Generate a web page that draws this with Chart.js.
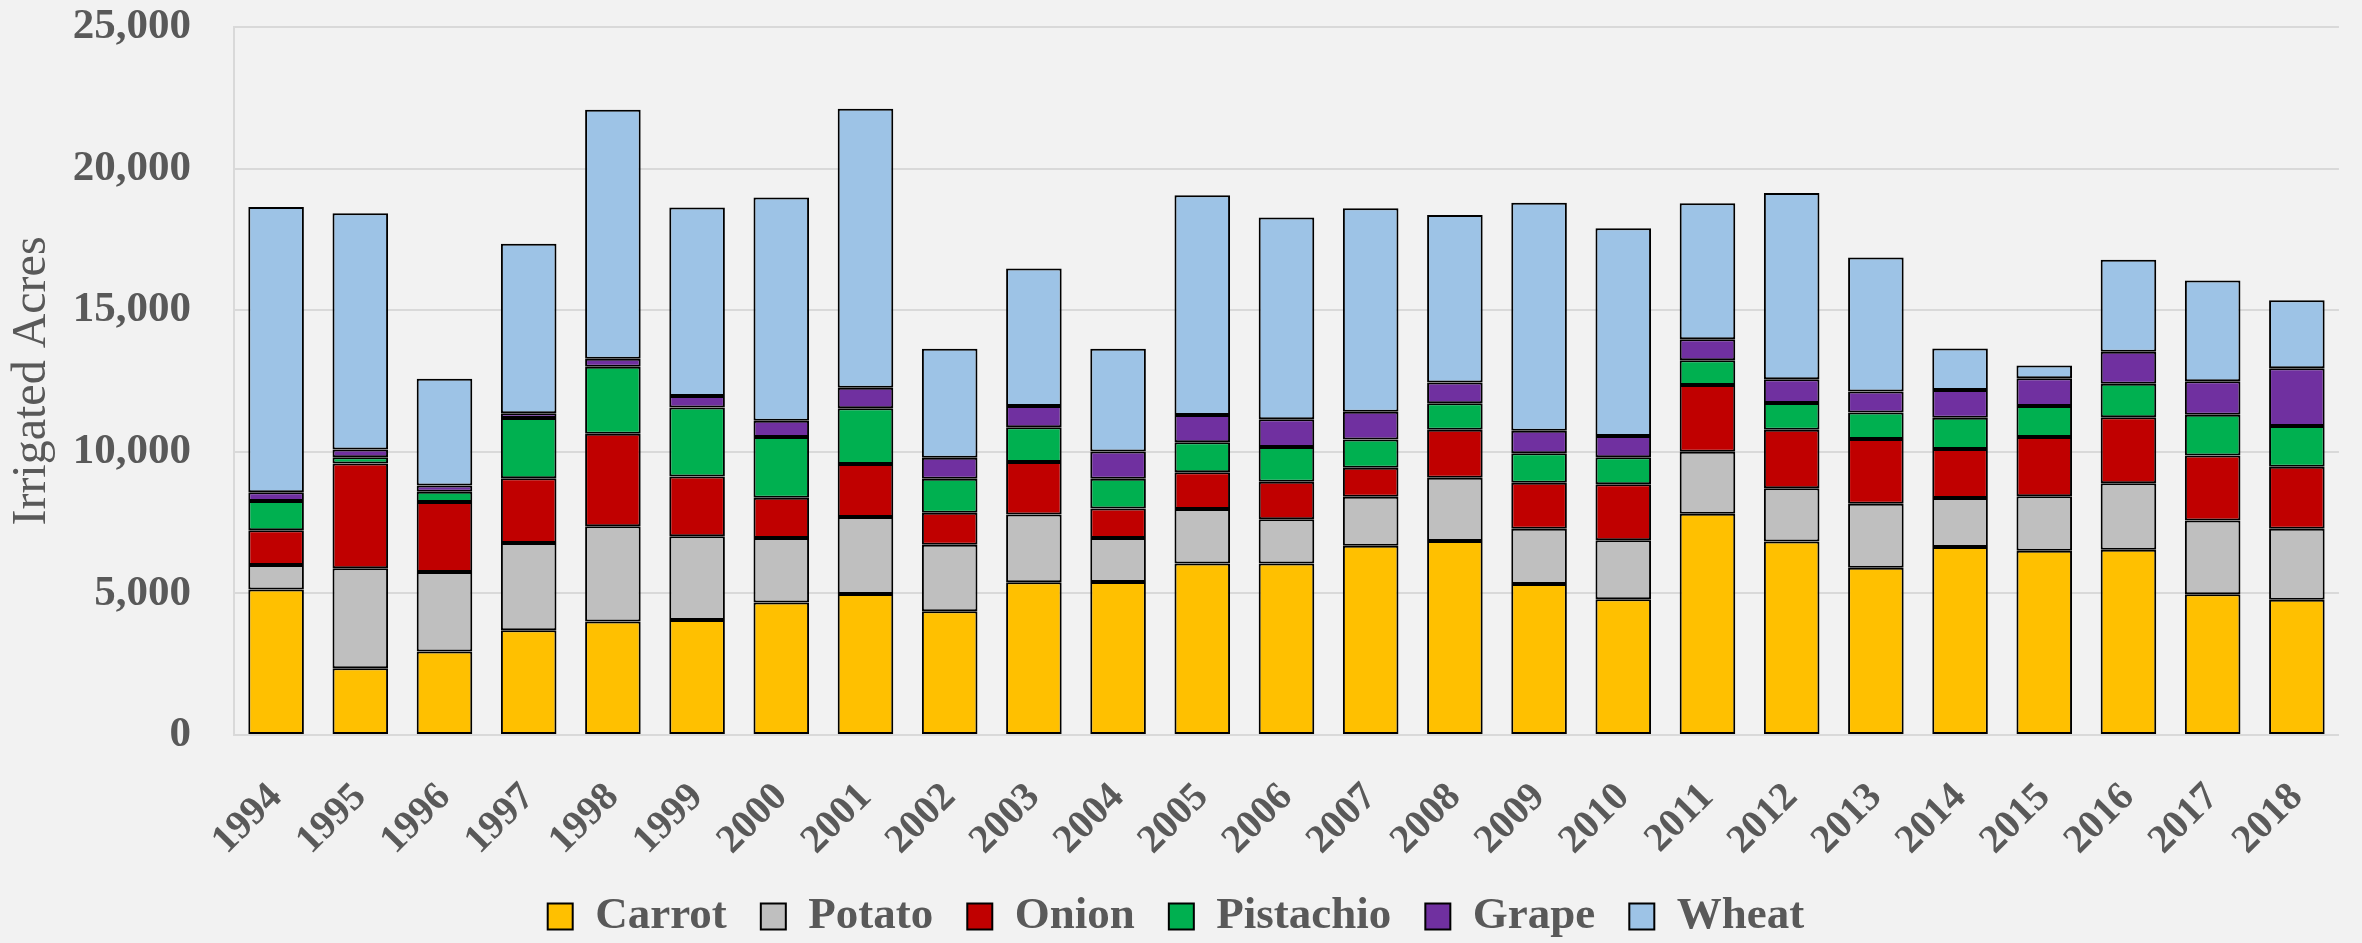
<!DOCTYPE html>
<html>
<head>
<meta charset="utf-8">
<title>Irrigated Acres by Crop, 1994–2018</title>
<script src="https://cdn.jsdelivr.net/npm/chart.js@4.4.1/dist/chart.umd.min.js"></script>
<style>
  html, body { margin: 0; padding: 0; background: #f2f2f2; }
  #wrap { width: 2362px; height: 943px; }
</style>
</head>
<body>
<div id="wrap"><canvas id="chart" width="2362" height="943"></canvas></div>
<script>
// Years on the category axis
const years = ['1994','1995','1996','1997','1998','1999','2000','2001','2002','2003','2004','2005',
               '2006','2007','2008','2009','2010','2011','2012','2013','2014','2015','2016','2017','2018'];

// Irrigated acres per crop and year
const carrot    = [5140,2360,2950,3700,4010,4060,4680,4980,4370,5390,5400,6060,6060,6680,6850,5330,4790,7810,6830,5910,6640,6510,6540,4970,4780];
const potato    = [860,3530,2810,3080,3360,2960,2280,2720,2350,2400,1560,1920,1560,1730,2230,1950,2090,2190,1880,2260,1730,1920,2350,2600,2500];
const onion     = [1230,3700,2470,2290,3270,2110,1420,1870,1130,1850,1040,1300,1320,1030,1700,1630,1970,2360,2070,2280,1730,2090,2330,2300,2190];
const pistachio = [1030,220,360,2120,2360,2430,2140,1970,1200,1230,1050,1060,1230,990,930,1040,960,870,940,940,1100,1100,1180,1440,1440];
const grape     = [310,270,220,170,290,410,580,720,740,750,960,960,980,980,740,790,750,740,840,740,980,980,1130,1180,2040];
const wheat     = [10070,8340,3770,5990,8790,6660,7880,9850,3850,4850,3630,7760,7120,7190,5910,8050,7330,4810,6580,4730,1470,450,3250,3560,2400];

// Value axis ticks
const yTicks = [0, 5000, 10000, 15000, 20000, 25000];

const seriesNames  = ['Carrot','Potato','Onion','Pistachio','Grape','Wheat'];
const seriesData   = [carrot, potato, onion, pistachio, grape, wheat];
const seriesColors = ['#FFC000','#BFBFBF','#C00000','#00B050','#7030A0','#9DC3E6'];

const FONT = '"Liberation Serif", "Times New Roman", serif';
const TEXT = '#595959';
const GRID = '#d9d9d9';

const datasets = seriesNames.map((name, i) => ({
  label: name,
  data: seriesData[i],
  backgroundColor: seriesColors[i],
  borderColor: '#000000',
  borderWidth: 2,
  borderSkipped: false,
  categoryPercentage: 1.0,
  barPercentage: 0.66
}));

new Chart(document.getElementById('chart'), {
  type: 'bar',
  data: { labels: years, datasets },
  options: {
    responsive: false,
    animation: false,
    devicePixelRatio: 1,
    layout: { padding: { top: 27, right: 10, left: 0, bottom: -6 } },
    plugins: {
      legend: {
        position: 'bottom',
        labels: {
          color: TEXT,
          font: { family: FONT, size: 45, weight: 'bold' },
          boxWidth: 25,
          boxHeight: 26,
          padding: 34
        }
      },
      tooltip: { enabled: false }
    },
    scales: {
      x: {
        stacked: true,
        grid: { display: false },
        border: { display: true, color: GRID, width: 2 },
        ticks: {
          color: TEXT,
          font: { family: FONT, size: 40, weight: 'bold' },
          minRotation: 45,
          maxRotation: 45,
          autoSkip: false,
          padding: 31
        },
        afterFit: (scale) => { scale.height = 125; }
      },
      y: {
        stacked: true,
        min: 0,
        max: 25000,
        afterBuildTicks: (scale) => { scale.ticks = yTicks.map(v => ({ value: v })); },
        grid: { color: GRID, lineWidth: 2, drawTicks: false },
        border: { display: true, color: GRID, width: 2 },
        ticks: {
          color: TEXT,
          font: { family: FONT, size: 43, weight: 'bold' },
          padding: 43,
          callback: (v) => Number(v).toLocaleString('en-US')
        },
        title: {
          display: true,
          text: 'Irrigated Acres',
          color: TEXT,
          font: { family: FONT, size: 48 },
          padding: { top: 4, bottom: 0 }
        },
        afterFit: (scale) => {
          scale.width = 234;
          // the tick padding is horizontal only; keep the plot area flush with the layout padding
          scale.paddingTop = 0;
          scale.paddingBottom = 0;
        }
      }
    }
  }
});
</script>
</body>
</html>
